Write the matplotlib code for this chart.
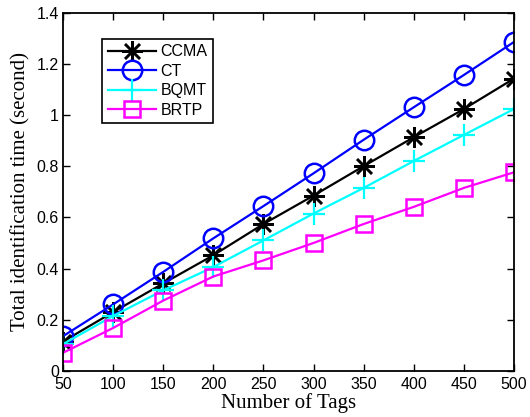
import numpy as np
import matplotlib.pyplot as plt

# Data
tags = [50, 100, 150, 200, 250, 300, 350, 400, 450, 500]
ccma = [0.115, 0.23, 0.342, 0.452, 0.574, 0.685, 0.80, 0.913, 1.023, 1.142]
ct = [0.136, 0.26, 0.387, 0.518, 0.644, 0.772, 0.903, 1.03, 1.156, 1.285]
bqmt = [0.105, 0.215, 0.315, 0.406, 0.51, 0.615, 0.715, 0.82, 0.922, 1.023]
brtp = [0.071, 0.168, 0.275, 0.369, 0.432, 0.50, 0.574, 0.641, 0.715, 0.776]

fig = plt.figure(figsize=(5.3, 4.17), dpi=100)
ax = fig.add_axes([63/530, 1-371/417, (514-63)/530, (371-12.5)/417])

star = (8, 2, 0)  # asterisk like MATLAB '*'
ax.plot(tags, ccma, '-', color='k', marker=star, lw=1.6, ms=15, mew=1.8, label='CCMA')
ax.plot(tags, ct, '-o', color=(0, 0, 1), lw=1.6, ms=14, mew=1.8, mfc='none', label='CT')
ax.plot(tags, bqmt, '-+', color=(0, 1, 1), lw=1.6, ms=16, mew=1.6, label='BQMT')
ax.plot(tags, brtp, '-s', color=(1, 0, 1), lw=1.6, ms=12, mew=1.8, mfc='none', label='BRTP')

ax.set_xlim(50, 500)
ax.set_ylim(0, 1.4)
ax.set_xticks(tags)
ax.set_yticks([0, 0.2, 0.4, 0.6, 0.8, 1, 1.2, 1.4])
ax.set_yticklabels(['0', '0.2', '0.4', '0.6', '0.8', '1', '1.2', '1.4'])
ax.tick_params(direction='in', top=True, right=True, length=5, width=1,
               labelsize=11.5, pad=3)
ax.tick_params(axis='x', pad=4)
for lab in ax.get_xticklabels() + ax.get_yticklabels():
    lab.set_fontfamily('Liberation Sans')
for s in ax.spines.values():
    s.set_linewidth(1.3)

ax.set_xlabel('Number of Tags', family='Liberation Serif', fontsize=15, labelpad=1)
ax.set_ylabel('Total identification time (second)', family='Liberation Serif',
              fontsize=15, labelpad=4)

leg = ax.legend(loc='upper left', bbox_to_anchor=(0.087, 0.927), fancybox=False,
                edgecolor='k', framealpha=1, prop={'family': 'Liberation Sans', 'size': 11.5},
                handlelength=3.0, borderpad=0.35, labelspacing=0.28, handletextpad=0.3,
                borderaxespad=0)
leg.get_frame().set_linewidth(1.2)

fig.savefig('out.png', dpi=100)
